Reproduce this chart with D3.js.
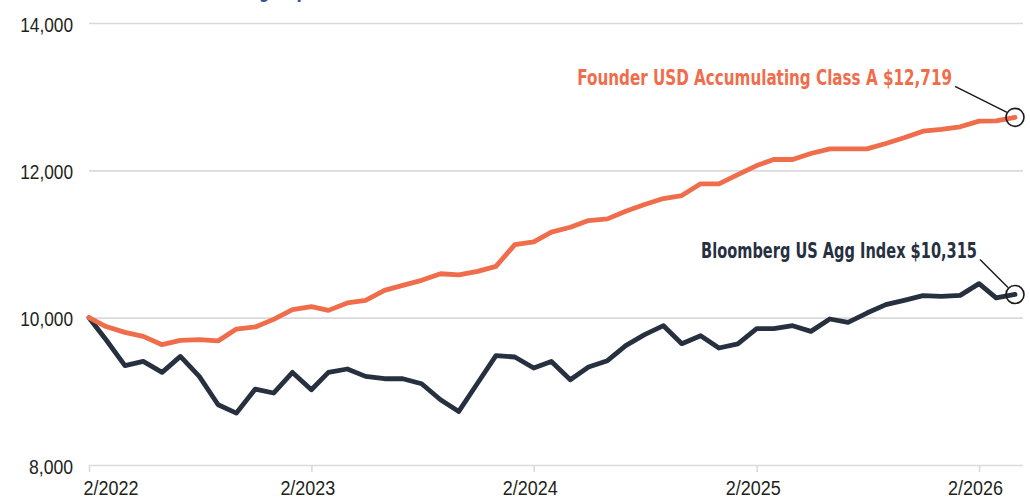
<!DOCTYPE html>
<html>
<head>
<meta charset="utf-8">
<script src="https://cdn.jsdelivr.net/npm/d3@7"></script>
<style>
  html, body { margin: 0; padding: 0; background: #fff; }
  svg { display: block; font-family: "Liberation Sans Narrow", "DejaVu Sans Condensed", "Arial Narrow", sans-serif; }
</style>
</head>
<body>
<div id="chart"></div>
<script>
// month-end values, 2/2022 .. 4/2026
const months = [
    "2022-02", "2022-03", "2022-04", "2022-05", "2022-06", "2022-07", "2022-08", "2022-09", "2022-10", "2022-11", "2022-12",
    "2023-01", "2023-02", "2023-03", "2023-04", "2023-05", "2023-06", "2023-07", "2023-08", "2023-09", "2023-10", "2023-11", "2023-12",
    "2024-01", "2024-02", "2024-03", "2024-04", "2024-05", "2024-06", "2024-07", "2024-08", "2024-09", "2024-10", "2024-11", "2024-12",
    "2025-01", "2025-02", "2025-03", "2025-04", "2025-05", "2025-06", "2025-07", "2025-08", "2025-09", "2025-10", "2025-11", "2025-12",
    "2026-01", "2026-02", "2026-03", "2026-04"
]

const founderValues = [
    10000, 9880, 9800, 9746, 9633, 9692, 9701, 9685, 9846, 9874, 9977,
    10109, 10150, 10099, 10200, 10235, 10371, 10439, 10507, 10596, 10580, 10629,
    10697, 10992, 11030, 11162, 11227, 11318, 11341, 11444, 11535, 11617, 11658,
    11817, 11817, 11943, 12065, 12147, 12147, 12228, 12292, 12292, 12292, 12364,
    12442, 12532, 12555, 12591, 12668, 12672, 12719
]

const bloombergValues = [
    10000, 9700, 9348, 9406, 9257, 9474, 9203, 8818, 8705, 9031, 8977,
    9257, 9022, 9257, 9303, 9203, 9171, 9171, 9103, 8886, 8727, 9113,
    9484, 9466, 9317, 9406, 9158, 9330, 9416, 9620, 9769, 9891, 9647,
    9755, 9588, 9643, 9851, 9851, 9891, 9814, 9982, 9936, 10063, 10177,
    10235, 10299, 10290, 10303, 10462, 10268, 10315
]

const seriesNames = ["Founder USD Accumulating Class A", "Bloomberg US Agg Index"]
const yTicks = [8000, 10000, 12000, 14000]
const xTickLabels = ["2/2022", "2/2023", "2/2024", "2/2025", "2/2026"]
const titleText = "Growth of $10,000, Including Capital Reinvestment"

/* Set the dimensions and margins */
const width = 1030, height = 499;
const margin = {top: 23, right: 7, bottom: 34, left: 89};
const lineRight = 1015;

const orange = "#f06d4c", navy = "#27303f", grid = "#dadada", textColor = "#231f20";

const svg = d3.select("#chart")
    .append("svg")
    .attr("width", width)
    .attr("height", height)
    .attr("viewBox", [0, 0, width, height]);

const parseMonth = d3.timeParse("%Y-%m");
const parseTick = d3.timeParse("%m/%Y");
const dates = months.map(parseMonth);

/* squeeze a text horizontally to look like the condensed face of the original */
const squeeze = (sel, x, y, target) => {
    sel.each(function() {
        const w = this.getComputedTextLength();
        const t = typeof target === "function" ? target(this.textContent) : target;
        d3.select(this)
            .attr("x", 0).attr("y", 0).attr("dx", 0).attr("dy", 0)
            .attr("transform", `translate(${x},${y}) scale(${t / w},1)`);
    });
};

/* scales */
const xScale = d3.scaleTime()
    .domain(d3.extent(dates))
    .range([margin.left, lineRight]);
const yScale = d3.scaleLinear()
    .domain([d3.min(yTicks), d3.max(yTicks)])
    .range([height - margin.bottom, margin.top]);

/* title, mostly cut off by the top edge */
svg.append("text")
    .attr("fill", "#2f5592")
    .style("font-size", "23px")
    .style("font-weight", "bold")
    .text(titleText)
    .call(squeeze, 20, -3, 440);

/* gridlines + y labels */
const yAxis = d3.axisLeft(yScale)
    .tickValues(yTicks)
    .tickFormat(d3.format(","))
    .tickSize(-(width - margin.right - margin.left))
    .tickPadding(16);

const yGroup = svg.append("g")
    .attr("transform", `translate(${margin.left},0)`)
    .call(yAxis);
yGroup.select(".domain").remove();
yGroup.selectAll(".tick line")
    .attr("stroke", grid)
    .attr("stroke-width", 1.6);
yGroup.selectAll(".tick text")
    .attr("fill", textColor)
    .style("font-size", "21px")
    .call(squeeze, -16, 8, s => s.length * 8.8);

/* x axis */
const xAxis = d3.axisBottom(xScale)
    .tickValues(xTickLabels.map(parseTick))
    .tickFormat(d3.timeFormat("%-m/%Y"))
    .tickSize(7)
    .tickSizeOuter(0);

const xGroup = svg.append("g")
    .attr("transform", `translate(0,${height - margin.bottom})`)
    .call(xAxis);
xGroup.select(".domain").remove();
xGroup.selectAll(".tick line")
    .attr("stroke", grid)
    .attr("stroke-width", 1.6);
xGroup.selectAll(".tick text")
    .attr("fill", textColor)
    .style("font-size", "21px")
    .call(squeeze, -4, 30, 55);
xGroup.select(".tick text")
    .attr("text-anchor", "start")
    .call(squeeze, -6, 30, 55);

/* lines */
const line = d3.line()
    .x((d, i) => xScale(dates[i]))
    .y(d => yScale(d));

const series = [
    {name: seriesNames[0], values: founderValues, color: orange},
    {name: seriesNames[1], values: bloombergValues, color: navy}
];

svg.append("g")
    .selectAll("path")
    .data(series.slice().reverse())
    .join("path")
    .attr("d", d => line(d.values))
    .attr("fill", "none")
    .attr("stroke", d => d.color)
    .attr("stroke-width", 4.8)
    .attr("stroke-linejoin", "round")
    .attr("stroke-linecap", "round");

/* end labels with leader lines and circles */
const fmt = d3.format(",");
const labelOffsets = [
    {dx: -63, dy: -32, width: 375, lx: -8, ly: -5},
    {dx: -38, dy: -36, width: 276, lx: -7, ly: -7}
];

series.forEach((s, k) => {
    const last = s.values.length - 1;
    const cx = xScale(dates[last]), cy = yScale(s.values[last]);
    const o = labelOffsets[k];
    const g = svg.append("g");
    g.append("line")
        .attr("x1", cx + o.dx + 3)
        .attr("y1", cy + o.dy + 1)
        .attr("x2", cx + o.lx)
        .attr("y2", cy + o.ly)
        .attr("stroke", "#1a1a1a")
        .attr("stroke-width", 1.4);
    g.append("circle")
        .attr("cx", cx)
        .attr("cy", cy)
        .attr("r", 9)
        .attr("fill", "none")
        .attr("stroke", "#1a1a1a")
        .attr("stroke-width", 1.6);
    g.append("text")
        .attr("text-anchor", "end")
        .attr("fill", s.color)
        .style("font-size", "21px")
        .style("font-weight", "bold")
        .text(`${s.name} $${fmt(s.values[last])}`)
        .call(squeeze, cx + o.dx, cy + o.dy, o.width);
});
</script>
</body>
</html>
